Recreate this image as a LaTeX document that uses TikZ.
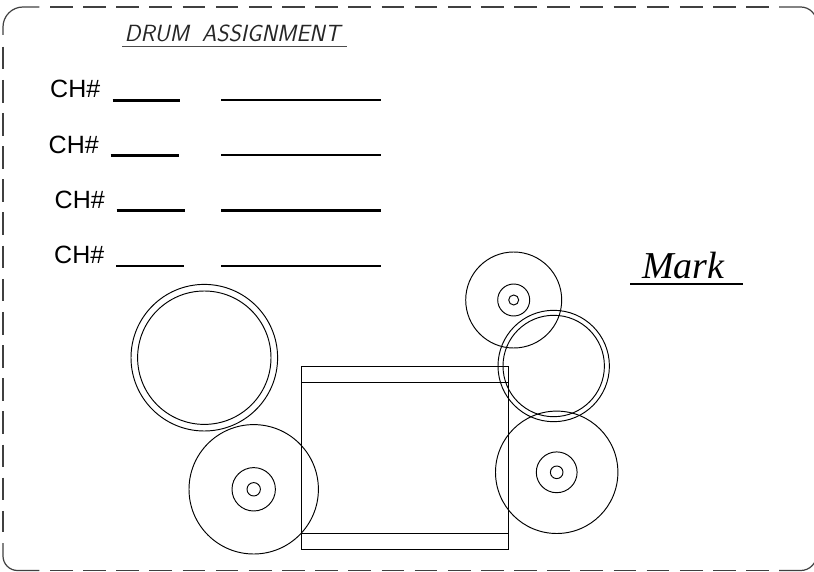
\documentclass[tikz,border=0pt]{standalone}
\usepackage{fontspec}
\setmainfont{Liberation Sans}
\newfontfamily\markfont{Liberation Serif}
\tikzset{
  drum/.style={draw=black,line width=0.95pt,circle,minimum size=#1,inner sep=0pt,outer sep=0pt},
  shell/.style={draw=black,line width=1pt},
  blank/.style={line width=2.6pt,black},
  chlabel/.style={font=\fontsize{25}{28}\selectfont,inner sep=0pt,anchor=base west},
  border/.style={draw=black!75,line width=1.2pt},
  borderdash/.style={border,dash pattern=on 22.7pt off 10.45pt}
}
\begin{document}
\begin{tikzpicture}[x=1pt,y=-1pt]
\useasboundingbox (0,0) rectangle (814,572);
% frame: dashed edges with solid corners; the right edge lies outside the page
\draw[border] (3,35) -- (3,27) arc[start angle=180,end angle=270,radius=20] -- (39.3,7);
\draw[border] (3,543) -- (3,556) arc[start angle=180,end angle=90,radius=14.5] -- (39.3,570.5);
\draw[border] (779,7) -- (800.7,7) arc[start angle=-90,end angle=0,radius=16];
\draw[border] (779,570.5) -- (800.7,570.5) arc[start angle=90,end angle=0,radius=16];
\draw[borderdash] (3,46.7) -- (3,532);
\draw[borderdash] (50,7) -- (769,7);
\draw[borderdash] (50,570.5) -- (769,570.5);
\node[inner sep=0pt,anchor=base west,font=\fontsize{23.4}{28}\selectfont\sffamily\itshape,text=black!85] (title) at (124.5,42) {DRUM\hspace{0.55em}ASSIGNMENT};
\coordinate (ta) at (122,47);\coordinate (tb) at (346.5,47);
\draw[line width=1pt,black!70] (ta) -- (tb);
\node[chlabel] (c1) at (50,98) {CH\#};
\node[chlabel] (c2) at (48.5,153.5) {CH\#};
\node[chlabel] (c3) at (54.5,208.5) {CH\#};
\node[chlabel] (c4) at (54,264) {CH\#};
\foreach \n/\xa/\xb/\y in {1/112.5/180/100.5,2/110.5/178.5/155.5,3/116.5/184.5/210.5,4/116/184/266}{
  \coordinate (sa\n) at (\xa,\y);\coordinate (sb\n) at (\xb,\y);
  \draw[blank] (sa\n) -- (sb\n);
}
\foreach \n/\y in {1/100,2/155,3/210.5,4/266}{
  \coordinate (la\n) at (221,\y);\coordinate (lb\n) at (381,\y);
  \draw[blank] (la\n) -- (lb\n);
}
\node[inner sep=0pt,anchor=base west,font=\fontsize{38}{40}\selectfont\markfont\itshape] (mark) at (642,278) {Mark};
\coordinate (ma) at (630,284);\coordinate (mb) at (743,284);
\draw[line width=2.8pt] (ma) -- (mb);
% kit
\node[shell,rectangle,minimum width=206.6pt,minimum height=183pt,inner sep=0pt,outer sep=0pt] (kick) at (405,457.5) {};
\coordinate (k1a) at (301.7,382);\coordinate (k1b) at (508.3,382);
\coordinate (k2a) at (301.7,533);\coordinate (k2b) at (508.3,533);
\draw[shell] (k1a) -- (k1b) (k2a) -- (k2b);
\node[drum=146.6pt] (a1) at (204.3,357.7) {};
\node[drum=133.4pt] (a2) at (204.3,357.7) {};
\node[drum=129.4pt] (b1) at (253.7,489.3) {};
\node[drum=43.4pt] (b2) at (253.7,489.3) {};
\node[drum=13.4pt] (b3) at (253.7,489.3) {};
\node[drum=96pt] (c1d) at (513.7,300) {};
\node[drum=32pt] (c2d) at (513.7,300) {};
\node[drum=10pt] (c3d) at (513.7,300) {};
\node[drum=111.4pt] (d1) at (553.7,366) {};
\node[drum=101.4pt] (d2) at (553.7,366) {};
\node[drum=122.4pt] (e1) at (556.7,472.3) {};
\node[drum=40.8pt] (e2) at (556.7,472.3) {};
\node[drum=12.6pt] (e3) at (556.7,472.3) {};
\end{tikzpicture}
\end{document}
